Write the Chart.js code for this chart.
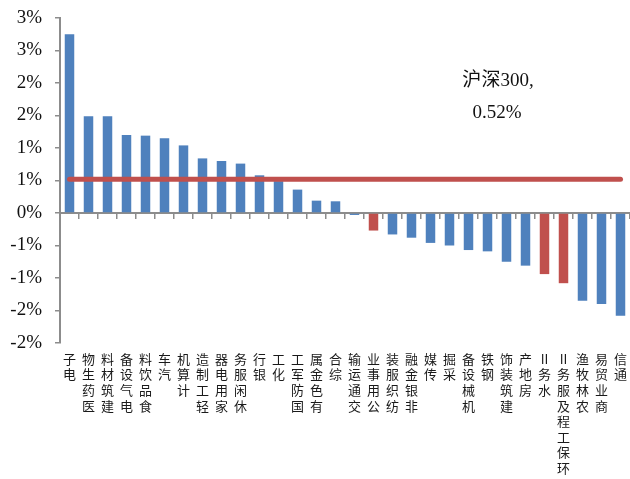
<!DOCTYPE html>
<html>
<head>
<meta charset="utf-8">
<script src="https://cdn.jsdelivr.net/npm/chart.js@4/dist/chart.umd.min.js"></script>
<style>
  html, body { margin: 0; padding: 0; background: #ffffff; }
  canvas { display: block; }
</style>
</head>
<body>
<canvas id="chart" width="630" height="479"></canvas>
<script>
// 申万一级行业周涨跌幅（%）
const categories = [
  '电子', '医药生物', '建筑材料', '电气设备', '食品饮料', '汽车', '计算机', '轻工制造',
  '家用电器', '休闲服务', '银行', '化工', '国防军工', '有色金属', '综合', '交通运输',
  '公用事业', '纺织服装', '非银金融', '传媒', '采掘', '机械设备', '钢铁', '建筑装饰',
  '房地产', '水务II', '环保工程及服务II', '农林牧渔', '商业贸易', '通信'
];
const changes = [
  2.75, 1.49, 1.49, 1.20, 1.19, 1.15, 1.04, 0.84,
  0.80, 0.76, 0.58, 0.49, 0.36, 0.19, 0.18, -0.03,
  -0.27, -0.33, -0.38, -0.46, -0.50, -0.57, -0.59, -0.75,
  -0.81, -0.94, -1.08, -1.35, -1.40, -1.58
];
// 环保相关行业，红色标出
const highlighted = ['公用事业', '水务II', '环保工程及服务II'];
// 沪深300 基准
const benchmarkName = '沪深300,';
const benchmarkValue = 0.52;
const benchmarkText = '0.52%';
// 纵轴刻度
const yMin = -2;
const yMax = 3;
const yStep = 0.5;

const BLUE = '#4F81BD';
const RED = '#C0504D';
const AXIS = '#8C8C8C';

const barColors = categories.map(c => highlighted.includes(c) ? RED : BLUE);

// Excel 式取整：0.5 远离零方向进位
function pctLabel(v) {
  const r = Math.sign(v) * Math.round(Math.abs(v));
  return (r === 0 ? 0 : r) + '%';
}

const benchmarkNote = {
  id: 'benchmarkNote',
  afterDatasetsDraw(chart) {
    const ctx = chart.ctx;
    ctx.save();
    ctx.fillStyle = '#111';
    ctx.font = '19px "Liberation Serif", "Noto Sans CJK SC", serif';
    ctx.textAlign = 'center';
    ctx.textBaseline = 'middle';
    ctx.fillText(benchmarkName, 498, 81);
    ctx.fillText(benchmarkText, 497, 113);
    ctx.restore();
  }
};

new Chart(document.getElementById('chart'), {
  data: {
    labels: categories,
    datasets: [
      {
        type: 'line',
        label: '沪深300',
        data: [
          { x: categories[0], y: benchmarkValue },
          { x: categories[categories.length - 1], y: benchmarkValue }
        ],
        borderColor: RED,
        borderWidth: 5,
        borderCapStyle: 'round',
        pointRadius: 0,
        order: 0
      },
      {
        type: 'bar',
        label: '涨跌幅',
        data: changes,
        backgroundColor: barColors,
        borderWidth: 0,
        categoryPercentage: 1,
        barPercentage: 0.5,
        order: 1
      }
    ]
  },
  options: {
    responsive: false,
    devicePixelRatio: 1,
    animation: false,
    layout: { padding: { top: 18, right: 0, left: 0, bottom: 0 } },
    plugins: { legend: { display: false }, tooltip: { enabled: false } },
    scales: {
      x: {
        type: 'category',
        position: 'bottom',
        offset: true,
        grid: { display: false },
        border: { display: false },
        ticks: {
          autoSkip: false,
          maxRotation: 0,
          minRotation: 0,
          padding: 0,
          color: '#1a1a1a',
          font: { family: '"Noto Sans CJK SC"', size: 13, lineHeight: 1.2 },
          callback(value) {
            const name = this.getLabelForValue(value);
            return name.match(/II|[\s\S]/g).reverse();
          }
        },
        afterFit(scale) { scale.height = 136; }
      },
      x2: {
        type: 'category',
        labels: categories,
        position: { y: 0 },
        offset: true,
        grid: {
          display: true,
          offset: true,
          drawOnChartArea: false,
          drawTicks: true,
          tickLength: 5,
          color: AXIS,
          lineWidth: 1.5
        },
        border: { display: true, color: AXIS, width: 2 },
        ticks: { display: false }
      },
      y: {
        min: yMin,
        max: yMax,
        grid: {
          display: true,
          drawOnChartArea: false,
          drawTicks: true,
          tickLength: 5,
          color: AXIS,
          lineWidth: 1.5
        },
        border: { display: true, color: AXIS, width: 2 },
        ticks: {
          stepSize: yStep,
          padding: 13,
          color: '#111',
          font: { family: '"Liberation Serif"', size: 19 },
          callback: v => pctLabel(v)
        },
        afterFit(scale) {
          scale.width = 60;
          scale.paddingTop = 0;
          scale.paddingBottom = 0;
        }
      }
    }
  },
  plugins: [benchmarkNote]
});
</script>
</body>
</html>
